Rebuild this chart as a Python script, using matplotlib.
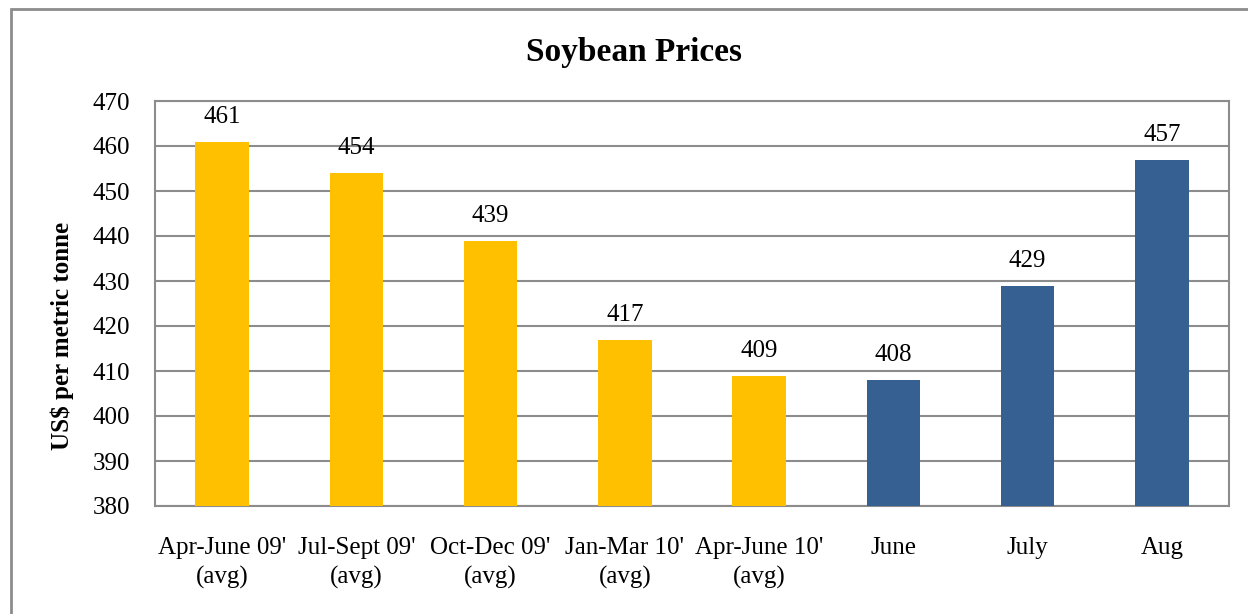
import matplotlib.pyplot as plt
import matplotlib.patches as mpatches

categories = ["Apr-June 09'\n(avg)", "Jul-Sept 09'\n(avg)", "Oct-Dec 09'\n(avg)",
              "Jan-Mar 10'\n(avg)", "Apr-June 10'\n(avg)", "June", "July", "Aug"]
prices = [461, 454, 439, 417, 409, 408, 429, 457]
is_avg = [True, True, True, True, True, False, False, False]

plt.rcParams['font.family'] = ['Liberation Serif', 'DejaVu Serif']

W, H = 1248, 614
fig = plt.figure(figsize=(W / 100, H / 100), dpi=100)
ax = fig.add_axes([155 / W, 1 - 506 / H, (1229 - 155) / W, (506 - 101) / H])

colors = ['#FFC000' if a else '#366092' for a in is_avg]
x = range(len(categories))
bars = ax.bar(x, prices, width=0.4, color=colors, zorder=3)

for b, v in zip(bars, prices):
    ax.annotate(str(v), (b.get_x() + b.get_width() / 2, v), xytext=(0, 10),
                textcoords='offset points', ha='center', va='bottom', fontsize=18)

ax.set_ylim(380, 470)
ax.set_xlim(-0.5, len(categories) - 0.5)
ax.set_yticks(range(380, 471, 10))
ax.yaxis.grid(True, color='#8c8c8c', linewidth=1.5, zorder=0)
ax.set_xticks(list(x))
ax.set_xticklabels(categories, fontsize=18, linespacing=1.42)
ax.tick_params(axis='both', length=0, labelsize=18)
ax.tick_params(axis='x', pad=22)
ax.tick_params(axis='y', pad=18)
for s in ax.spines.values():
    s.set_color('#8c8c8c')
    s.set_linewidth(1.5)

fig.text(62 / W, 1 - 336 / H, 'US$ per metric tonne', rotation=90, ha='center',
         va='center', fontsize=18, fontweight='bold')
fig.text(634 / W, 1 - 52 / H, 'Soybean Prices', ha='center', va='center',
         fontsize=24, fontweight='bold')

# outer chart frame
fig.patches.append(mpatches.Rectangle((11 / W, -0.1), 1.2, 1 - 9 / H + 0.1,
                                      transform=fig.transFigure, fill=False,
                                      edgecolor='#8c8c8c', linewidth=2))

fig.savefig('out.png', dpi=100)
